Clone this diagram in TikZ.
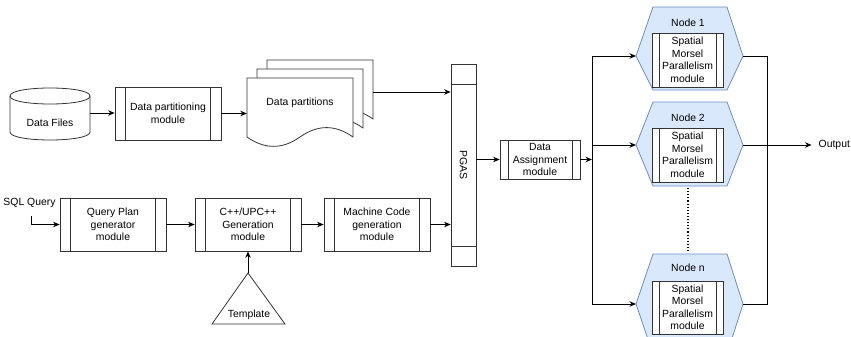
\documentclass[tikz,border=0pt]{standalone}
\usepackage{fontspec}
\setmainfont{Liberation Sans}
\usetikzlibrary{arrows.meta,calc}
\definecolor{hexfill}{HTML}{DAE8FC}
\definecolor{hexdraw}{HTML}{6C8EBF}
\definecolor{edge}{HTML}{333333}
\tikzset{
  txt/.style={font=\fontsize{10.4}{12.5}\selectfont, align=center, inner sep=0pt},
  shapeline/.style={draw=edge, line width=0.8pt},
  procbox/.style n args={3}{shapeline, fill=white, txt, minimum width=#1pt, minimum height=#2pt,
    path picture={
      \draw[edge, line width=0.8pt] ([xshift=#3pt]path picture bounding box.north west) -- ([xshift=#3pt]path picture bounding box.south west);
      \draw[edge, line width=0.8pt] ([xshift=-#3pt]path picture bounding box.north east) -- ([xshift=-#3pt]path picture bounding box.south east);
    }},
  pgasbox/.style={shapeline, fill=white, minimum width=25pt, minimum height=202pt, inner sep=0pt,
    path picture={
      \draw[edge, line width=0.8pt] ([yshift=-20pt]path picture bounding box.north west) -- ([yshift=-20pt]path picture bounding box.north east);
      \draw[edge, line width=0.8pt] ([yshift=20pt]path picture bounding box.south west) -- ([yshift=20pt]path picture bounding box.south east);
    }},
  arr/.style={draw=black, line width=0.8pt, -{Stealth[length=6.5pt,width=5.5pt]}},
  conn/.style={draw=black, line width=0.8pt},
  hexa/.style={draw=hexdraw, fill=hexfill, line width=0.8pt},
  docpath/.style={shapeline, fill=white},
}
\begin{document}
\begin{tikzpicture}[x=1pt,y=-1pt]
\useasboundingbox (0,0) rectangle (851,337);
\clip (0,0) rectangle (851,337);

% ---- Data files cylinder
\draw[shapeline, fill=white] (10,96) -- (10,132) .. controls (10,142.67) and (90,142.67) .. (90,132) -- (90,96)
  .. controls (90,85.33) and (10,85.33) .. (10,96) -- cycle;
\draw[shapeline] (10,96) .. controls (10,106.67) and (90,106.67) .. (90,96);
\node[txt, minimum width=80pt] (df) at (50,123) {Data Files};

% ---- Data partitioning module
\node[procbox={106}{53}{10.6}] (dpm) at (168,113.5) {Data partitioning\\module};

% ---- Data partitions (stack of documents)
\foreach \dx/\dy in {20/-18, 10/-9, 0/0}{
  \begin{scope}[shift={(\dx,\dy)}]
    \draw[docpath] (247,78) -- (353,78) -- (353,137)
      .. controls (335.33,124.47) and (317.67,124.47) .. (300,137)
      .. controls (282.33,149.47) and (264.67,149.47) .. (247,137) -- cycle;
  \end{scope}
}
\node[txt, minimum width=106pt] (dp) at (300,103) {Data partitions};
\coordinate (dp3e) at (373,92);

% ---- Bottom row
\node[txt] (sql) at (29.5,203) {SQL Query};
\node[procbox={106}{53}{10.6}] (qp) at (113,224.5) {Query Plan\\generator\\module};
\node[procbox={106}{53}{10.6}] (cpp) at (248,224.5) {C++/UPC++\\Generation\\module};
\node[procbox={106}{53}{10.6}] (mc) at (377,224.5) {Machine Code\\generation\\module};

% ---- Template triangle
\draw[shapeline, fill=white] (248,273) -- (285,324) -- (212,324) -- cycle;
\coordinate (tapex) at (248,273);
\node[txt] (tpl) at (249,315) {Template};

% ---- PGAS
\node[pgasbox] (pgas) at (463.5,165) {};
\node[txt, rotate=-90] (pgaslab) at (pgas.center) {PGAS};

% ---- Data Assignment
\node[procbox={80}{39}{8}] (da) at (540,159.5) {Data\\Assignment\\module};

% ---- Hexagon nodes
\draw[hexa] (653,7) -- (727,7) -- (743,56) -- (727,90) -- (653,90) -- (636,56) -- cycle;
\coordinate (h1w) at (636,56); \coordinate (h1e) at (743,56);
\draw[hexa] (653,102) -- (727,102) -- (743,145) -- (727,186) -- (653,186) -- (636,145) -- cycle;
\coordinate (h2w) at (636,145); \coordinate (h2e) at (743,145);
\draw[hexa] (653,254) -- (727,254) -- (743,304) -- (727,354) -- (653,354) -- (636,304) -- cycle;
\coordinate (hnw) at (636,304); \coordinate (hne) at (743,304);
\coordinate (h2s) at (688,186); \coordinate (hnn) at (688,254);

\node[txt] (h1lab) at (688,23) {Node 1};
\node[txt] (h2lab) at (688,118) {Node 2};
\node[txt] (hnlab) at (688,268) {Node n};

\node[procbox={71}{54}{7}] (m1) at (687.5,60) {Spatial\\Morsel\\Parallelism\\module};
\node[procbox={71}{54}{7}] (m2) at (687.5,155) {Spatial\\Morsel\\Parallelism\\module};
\node[procbox={71}{53}{7}] (mn) at (687.5,307.5) {Spatial\\Morsel\\Parallelism\\module};

\node[txt, anchor=west] (out) at (818.5,145) {Output};

% ---- Connectors
\draw[arr] ([yshift=10pt]df.east) -- ([yshift=10pt]df.east -| dpm.west);
\draw[arr] (dpm.east) -- (dpm.east -| dp.west);
\draw[arr] (dp3e) -- (dp3e -| pgas.west);
\draw[arr] ([shift={(2,8)}]sql.south) |- (qp.west);
\draw[arr] (qp.east) -- (cpp.west);
\draw[arr] (cpp.east) -- (mc.west);
\draw[arr] (tapex) -- (tapex |- cpp.south);
\draw[arr] (mc.east) -- (mc.east -| pgas.west);
\draw[arr] (pgas.east |- da.west) -- (da.west);

\coordinate (b1) at (592,56);
\coordinate (bn) at (592,304);
\draw[arr] (da.east) -- (da.east -| b1);
\draw[conn] (b1) -- (bn);
\draw[arr] (b1) -- (h1w);
\draw[arr] (b1 |- h2w) -- (h2w);
\draw[arr] (bn) -- (hnw);

\coordinate (r1) at (767,56);
\draw[conn] (h1e) -- (r1) -- (r1 |- hne) -- (hne);
\draw[arr, shorten >=7pt] (h2e) -- (h2e -| out.west);

\draw[black, line width=1.1pt, dotted, shorten <=2pt, shorten >=2pt] (h2s) -- (hnn);
\end{tikzpicture}
\end{document}
